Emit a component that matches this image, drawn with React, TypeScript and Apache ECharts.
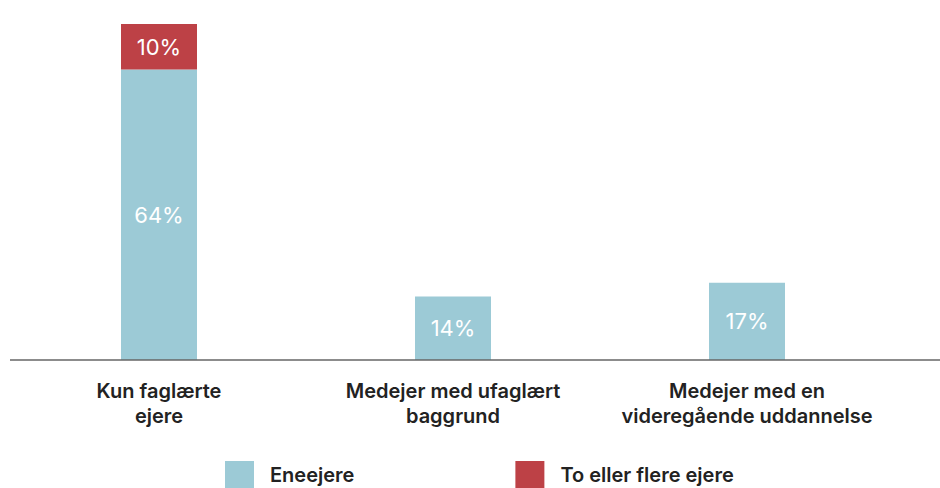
import React, { useEffect, useRef } from "react";
import * as echarts from "echarts";

const categories = [
  "Kun faglærte\nejere",
  "Medejer med ufaglært\nbaggrund",
  "Medejer med en\nvideregående uddannelse",
];
const seriesNames = ["Eneejere", "To eller flere ejere"];
const soleOwners = [64, 14, 17];
const multipleOwners: (number | null)[] = [10, null, null];
const colors = ["#9ccad6", "#bd4146"];

export default function App() {
  const ref = useRef<HTMLDivElement>(null);
  useEffect(() => {
    if (!ref.current) return;
    const chart = echarts.init(ref.current, null, { renderer: "svg" });
    const labelStyle = {
      show: true,
      position: "inside" as const,
      color: "#ffffff",
      fontFamily: "Inter",
      fontSize: 22,
      fontWeight: 400 as const,
      formatter: (p: any) => `${p.value}%`,
    };
    chart.setOption({
      animation: false,
      backgroundColor: "#ffffff",
      grid: { left: 12, right: 46, top: 15, bottom: 128, containLabel: false },
      xAxis: {
        type: "category",
        data: categories,
        axisLine: { show: false },
        axisTick: { show: false },
        axisLabel: {
          color: "#222222",
          fontFamily: "Inter",
          fontWeight: 600,
          fontSize: 20,
          lineHeight: 25,
          margin: 18,
          interval: 0,
        },
      },
      yAxis: {
        type: "value",
        min: 0,
        max: 76,
        show: false,
      },
      legend: {
        left: 225,
        top: 461,
        padding: 0,
        itemWidth: 29,
        itemHeight: 27,
        itemGap: 161,
        icon: "rect",
        data: seriesNames,
        textStyle: {
          color: "#222222",
          fontFamily: "Inter",
          fontWeight: 600,
          fontSize: 20,
          lineHeight: 22,
          padding: [0, 0, 0, 11],
        },
      },
      graphic: [
        {
          type: "line",
          shape: { x1: 10, y1: 360, x2: 940, y2: 360 },
          style: { stroke: "#666666", lineWidth: 1.5 },
          z: 10,
        },
      ],
      series: [
        {
          name: seriesNames[0],
          type: "bar",
          stack: "total",
          data: soleOwners,
          barWidth: 76,
          itemStyle: { color: colors[0] },
          label: labelStyle,
        },
        {
          name: seriesNames[1],
          type: "bar",
          stack: "total",
          data: multipleOwners,
          barWidth: 76,
          itemStyle: { color: colors[1] },
          label: labelStyle,
        },
      ],
    });
    return () => chart.dispose();
  }, []);
  return <div ref={ref} style={{ width: 940, height: 488, position: "fixed", left: 0, top: 0 }} />;
}
